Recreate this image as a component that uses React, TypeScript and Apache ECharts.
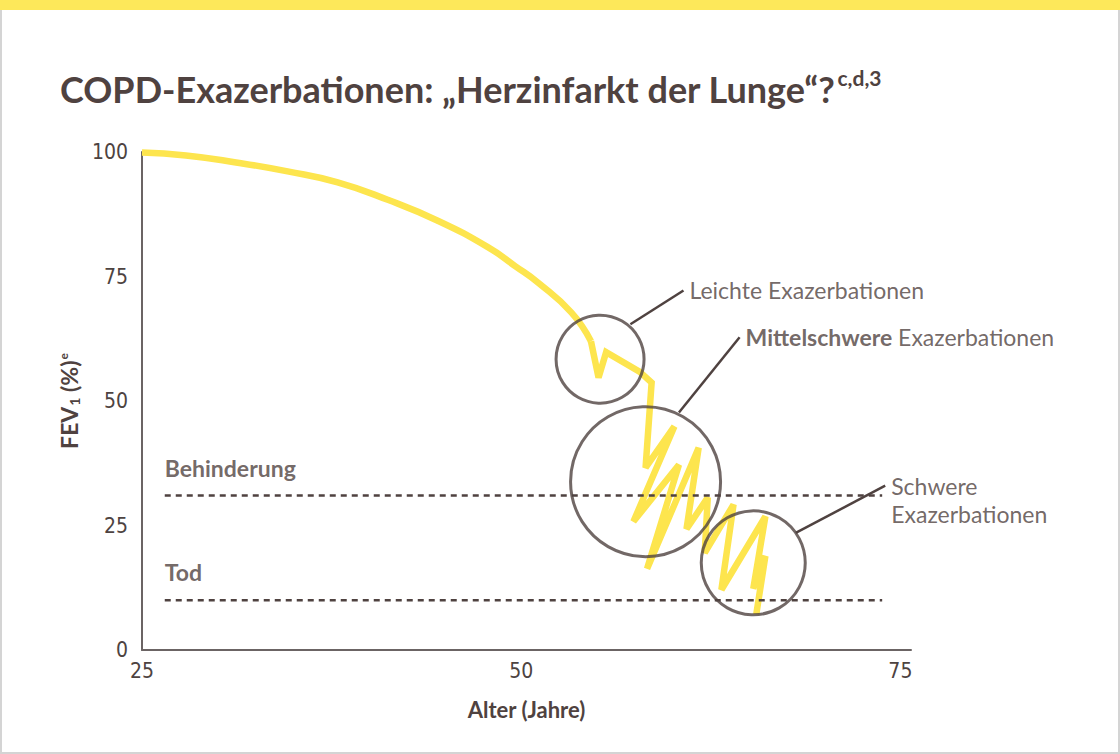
import * as echarts from "echarts"
import { useEffect, useRef } from "react"

// Achsen
const xTicks = [25, 50, 75]
const yTicks = [0, 25, 50, 75, 100]

// FEV1-Verlauf ohne Exazerbationen (Alter, FEV1 %)
const declineCurve = [
  [25, 99.9], [27.9, 99.3], [31.2, 97.9], [34.6, 96.1], [37.9, 93.9],
  [41.2, 90.4], [44.5, 86.2], [47.8, 80.9], [49.6, 77.1], [51.1, 73.8],
  [53.3, 67.8], [54.6, 62.0],
]

// Zickzack durch die Exazerbationen
const exacerbationPath = [
  [54.6, 62.0], [55.1, 54.7], [55.6, 59.8], [57.8, 55.9], [58.6, 53.7],
  [58.2, 36.6], [60.1, 44.9], [57.4, 25.8], [60.4, 37.2], [58.3, 16.3],
  [61.7, 40.6], [60.9, 24.3], [62.3, 30.6], [62.1, 19.5], [64.0, 29.2],
  [63.2, 12.1], [66.1, 26.8], [65.3, 12.3], [66.1, 18.9], [65.5, 7.2],
]

// Kreise um die Exazerbationen
const circleCentres = [[55.2, 58.4], [58.2, 33.8], [65.3, 17.5]]

// Schwellen
const thresholdNames = ["Behinderung", "Tod"]
const thresholdValues = [31, 10]
const thresholdSpan = [26.5, 73.8]

// Hinweislinien (Kreisrand -> Beschriftung)
const leaderLines = [
  [[57.2, 65.4], [60.7, 72.2]],
  [[60.4, 47.7], [64.4, 62.8]],
  [[68.1, 23.5], [74.0, 33.0]],
]
const leaderTexts = [
  "Leichte Exazerbationen",
  "{b|Mittelschwere} Exazerbationen",
  "Schwere\nExazerbationen",
]

const YELLOW = "#fde54e"
const BROWN = "#4f4240"
const FONT = "Lato, 'Open Sans', sans-serif"
const NARROW = "'Liberation Sans Narrow', 'DejaVu Sans Condensed', Roboto, sans-serif"
const circleSizes = [88, 150, 104]

export default function App() {
  const chartRef = useRef<HTMLDivElement>(null)

  useEffect(() => {
    if (!chartRef.current) return
    document.body.style.margin = "0"
    const chart = echarts.init(chartRef.current, null, { renderer: "svg" })

    const series: any[] = [
      {
        type: "line",
        data: declineCurve,
        smooth: 0.5,
        symbol: "none",
        lineStyle: { color: YELLOW, width: 6.5 },
        z: 2,
      },
      {
        type: "line",
        data: exacerbationPath,
        symbol: "none",
        lineStyle: { color: YELLOW, width: 6.5, join: "miter", miterLimit: 3 },
        z: 2,
      },
      ...thresholdValues.map(v => ({
        type: "line",
        data: thresholdSpan.map(x => [x, v]),
        symbol: "none",
        lineStyle: { color: BROWN, width: 2.5, type: [6, 5] },
        z: 3,
      })),
      {
        type: "scatter",
        data: circleCentres,
        symbol: "circle",
        symbolSize: (_v: any, p: any) => circleSizes[p.dataIndex],
        itemStyle: { color: "rgba(0,0,0,0)", borderColor: BROWN, borderWidth: 3 },
        z: 4,
      },
      ...leaderLines.map(seg => ({
        type: "line",
        data: seg,
        symbol: "none",
        lineStyle: { color: BROWN, width: 2.5 },
        z: 4,
      })),
      {
        type: "scatter",
        symbolSize: 0,
        itemStyle: { color: "rgba(0,0,0,0)" },
        z: 5,
        data: [
          ...leaderLines.map((seg, i) => ({
            value: seg[1],
            label: {
              show: true,
              formatter: leaderTexts[i],
              position: "right",
              distance: 6,
              offset: i === 2 ? [0, 14] : [0, 0],
              color: BROWN,
              fontFamily: FONT,
              fontSize: 23,
              lineHeight: 28,
              rich: { b: { fontWeight: "bold", fontSize: 23, color: BROWN, fontFamily: FONT } },
            },
          })),
          ...thresholdValues.map((v, i) => ({
            value: [thresholdSpan[0], v],
            label: {
              show: true,
              formatter: thresholdNames[i],
              position: [0, -28],
              align: "left",
              verticalAlign: "middle",
              color: BROWN,
              fontFamily: FONT,
              fontWeight: "bold",
              fontSize: 23,
            },
          })),
        ],
      },
    ]

    chart.setOption({
      animation: false,
      title: {
        text: "{a|COPD-Exazerbationen: „Herzinfarkt der Lunge“?}{s|c,d,3}",
        left: 55,
        top: 62,
        textStyle: {
          rich: {
            a: { fontFamily: FONT, fontWeight: "bold", fontSize: 36, color: BROWN, lineHeight: 44 },
            s: { fontFamily: FONT, fontSize: 21, color: BROWN, verticalAlign: "top", lineHeight: 44, padding: [0, 0, 14, 2] },
          },
        },
      },
      grid: { left: 142, right: 209, top: 152, bottom: 104 },
      xAxis: {
        type: "value",
        min: xTicks[0],
        max: 75.7,
        interval: 25,
        name: "Alter (Jahre)",
        nameLocation: "middle",
        nameGap: 48,
        nameTextStyle: { fontFamily: FONT, fontWeight: "bold", fontSize: 22, color: BROWN },
        axisLine: { lineStyle: { color: "#6b6464", width: 2 } },
        axisTick: { show: false },
        splitLine: { show: false },
        axisLabel: {
          margin: 10,
          fontFamily: NARROW,
          fontSize: 21,
          color: "#4d4341",
          formatter: (v: number) => (xTicks.includes(v) ? String(v) : ""),
        },
      },
      yAxis: {
        type: "value",
        min: yTicks[0],
        max: yTicks[yTicks.length - 1],
        interval: 25,
        name: "FEV{sub|1} (%){sup|e}",
        nameLocation: "middle",
        nameGap: 56,
        nameRotate: 90,
        nameTextStyle: {
          fontFamily: FONT,
          fontWeight: "bold",
          fontSize: 23,
          color: BROWN,
          rich: {
            sub: { fontFamily: FONT, fontWeight: "bold", fontSize: 14, color: BROWN, verticalAlign: "bottom", padding: [7, 0, 0, 1] },
            sup: { fontFamily: FONT, fontWeight: "bold", fontSize: 12, color: BROWN, verticalAlign: "top", padding: [0, 0, 12, 1] },
          },
        },
        axisLine: { show: true, lineStyle: { color: "#6b6464", width: 2 } },
        axisTick: { show: false },
        splitLine: { show: false },
        axisLabel: { margin: 14, fontFamily: NARROW, fontSize: 21, color: "#4d4341" },
      },
      series,
    })

    return () => chart.dispose()
  }, [])

  return (
    <div style={{ position: "fixed", left: 0, top: 0, width: 1120, height: 754, background: "#fff" }}>
      <div style={{ position: "absolute", left: 0, top: 0, width: 1120, height: 10, background: "#fde85a" }} />
      <div
        style={{
          position: "absolute",
          left: 0,
          top: 10,
          width: 1120,
          height: 744,
          boxSizing: "border-box",
          borderLeft: "2px solid #d4d4d4",
          borderRight: "2px solid #d4d4d4",
          borderBottom: "2px solid #d4d4d4",
        }}
      />
      <div ref={chartRef} style={{ position: "absolute", left: 0, top: 0, width: 1120, height: 754 }} />
    </div>
  )
}
